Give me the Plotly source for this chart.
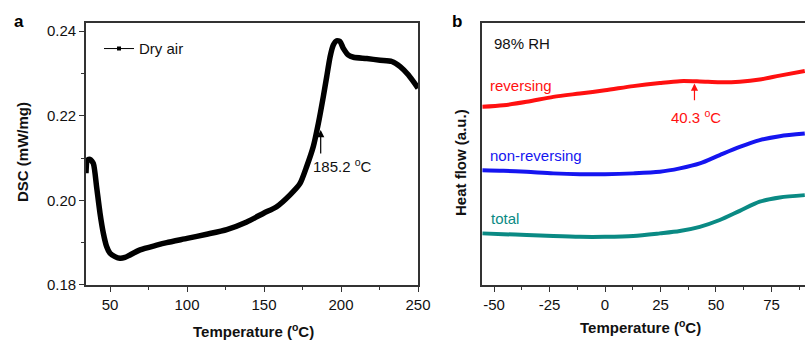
import plotly.graph_objects as go

# Panel a: DSC in dry air
temp_a = [34.4, 35.3, 37.0, 39.2, 41.3, 43.5, 45.7, 47.8, 50.0, 53.2, 56.5, 59.7, 63.0, 69.5,
          80.3, 86.8, 100.0, 112.8, 125.8, 138.8, 150.0, 158.2, 166.9, 173.4, 177.7, 182.0,
          185.3, 188.5, 190.7, 192.9, 195.0, 197.2, 199.4, 201.5, 204.8, 208.1, 216.7, 225.4,
          233.0, 238.4, 243.8, 250.0]
dsc_a = [0.2064, 0.2095, 0.2097, 0.2087, 0.2032, 0.1970, 0.1922, 0.1891, 0.1875, 0.1867, 0.1863,
         0.1865, 0.1871, 0.1883, 0.1894, 0.1900, 0.1910, 0.1920, 0.1931, 0.1949, 0.1970, 0.1985,
         0.2013, 0.2040, 0.2080, 0.2127, 0.2182, 0.2245, 0.2292, 0.2339, 0.2367, 0.2377, 0.2375,
         0.2359, 0.2343, 0.2338, 0.2335, 0.2331, 0.2328, 0.2316, 0.2296, 0.2265]

# Panel b: heat flow at 98% RH (arbitrary units)
temp_b = [-55.3, -45.8, -35.3, -23.3, -11.3, 0.0, 12.7, 24.7, 33.7, 42.7, 51.7, 60.7, 69.7, 78.7, 90.0]
reversing = [6.80, 6.86, 6.99, 7.18, 7.31, 7.43, 7.59, 7.71, 7.78, 7.77, 7.74, 7.76, 7.84, 7.99, 8.17]
non_reversing = [4.38, 4.36, 4.32, 4.26, 4.23, 4.23, 4.26, 4.32, 4.45, 4.64, 4.96, 5.27, 5.53, 5.68, 5.78]
total = [1.97, 1.94, 1.91, 1.87, 1.84, 1.84, 1.87, 1.97, 2.06, 2.22, 2.48, 2.83, 3.18, 3.34, 3.43]

x_ticks_a = [50, 100, 150, 200, 250]
y_ticks_a = [0.18, 0.20, 0.22, 0.24]
y_ticklabels_a = ["0.18", "0.20", "0.22", "0.24"]
x_ticks_b = [-50, -25, 0, 25, 50, 75]
x_ticklabels_b = ["-50", "-25", "0", "25", "50", "75"]

FONT = "Liberation Sans, Arial, sans-serif"
RED = "#ff1010"
BLUE = "#1515f0"
TEAL = "#0a8a84"
AXC = "#333333"

fig = go.Figure()

fig.add_trace(go.Scatter(x=temp_a, y=dsc_a, mode="lines", line=dict(color="black", width=5.5, shape="spline", smoothing=0.6),
                         showlegend=False, xaxis="x", yaxis="y"))
fig.add_trace(go.Scatter(x=[None], y=[None], mode="lines+markers", name="Dry air",
                         line=dict(color="black", width=1), marker=dict(symbol="square", size=4, color="black"),
                         xaxis="x", yaxis="y"))

for vals, col in [(reversing, RED), (non_reversing, BLUE), (total, TEAL)]:
    fig.add_trace(go.Scatter(x=temp_b, y=vals, mode="lines", line=dict(color=col, width=4, shape="spline", smoothing=0.8),
                             showlegend=False, xaxis="x2", yaxis="y2"))

axis_common = dict(showline=True, linecolor=AXC, linewidth=1.5, ticks="outside", ticklen=5, tickwidth=1.2,
                   tickcolor=AXC, showgrid=False, zeroline=False, tickfont=dict(family=FONT, size=15, color="#111"))

fig.update_layout(
    width=805, height=340,
    margin=dict(l=0, r=0, t=0, b=0, autoexpand=False),
    paper_bgcolor="white", plot_bgcolor="white",
    font=dict(family=FONT, size=15, color="#111"),
    xaxis=dict(domain=[0.1068, 0.5193], range=[34.4, 250], tickvals=x_ticks_a, mirror=True,
               minor=dict(dtick=25, tick0=0, ticks="outside", ticklen=3, tickcolor=AXC), anchor="y", **axis_common),
    yaxis=dict(domain=[0.1618, 0.9324], range=[0.18, 0.2419], tickvals=y_ticks_a, ticktext=y_ticklabels_a, mirror=True,
               minor=dict(dtick=0.01, tick0=0.18, ticks="outside", ticklen=3, tickcolor=AXC), anchor="x", **axis_common),
    xaxis2=dict(domain=[0.5991, 1.0], range=[-55.3, 90.1], tickvals=x_ticks_b, ticktext=x_ticklabels_b, mirror=True,
                minor=dict(dtick=12.5, tick0=0, ticks="outside", ticklen=3, tickcolor=AXC), anchor="y2", **axis_common),
    yaxis2=dict(domain=[0.1618, 0.9324], range=[0, 10], showticklabels=False, anchor="x2",
                showline=True, linecolor=AXC, linewidth=1.5, ticks="", showgrid=False, zeroline=False),
    legend=dict(x=0.123, y=0.905, xanchor="left", yanchor="top", bgcolor="rgba(0,0,0,0)",
                font=dict(family=FONT, size=15, color="#111"), itemwidth=30),
)

def A(**kw):
    kw.setdefault("xanchor", "center")
    kw.setdefault("yanchor", "middle")
    kw.setdefault("showarrow", False)
    return dict(**kw)

ann = []
# panel labels
ann.append(A(text="<b>a</b>", x=19/805, y=1-22/340, xref="paper", yref="paper",
             font=dict(size=17, family=FONT, color="black")))
ann.append(A(text="<b>b</b>", x=457/805, y=1-22/340, xref="paper", yref="paper",
             font=dict(size=17, family=FONT, color="black")))
# axis titles
ann.append(A(text="<b>Temperature (<sup>o</sup>C)</b>", x=253/805, y=1-330/340, xref="paper", yref="paper",
             font=dict(size=15, family=FONT, color="#111")))
ann.append(A(text="<b>Temperature (<sup>o</sup>C)</b>", x=640/805, y=1-326/340, xref="paper", yref="paper",
             font=dict(size=15, family=FONT, color="#111")))
ann.append(A(text="<b>DSC (mW/mg)</b>", x=22/805, y=1-152/340, xref="paper", yref="paper", textangle=-90,
             font=dict(size=15, family=FONT, color="#111")))
ann.append(A(text="<b>Heat flow (a.u.)</b>", x=460/805, y=1-163/340, xref="paper", yref="paper", textangle=-90,
             font=dict(size=15, family=FONT, color="#111")))
# panel a arrow + label
ann.append(dict(text="", x=186.8, y=0.2166, ax=186.8, ay=0.2107, xref="x", yref="y", axref="x", ayref="y",
                showarrow=True, arrowhead=2, arrowsize=1.2, arrowwidth=1.2, arrowcolor="black"))
ann.append(A(text="185.2 <sup>o</sup>C", x=200.9, y=0.2082, xref="x", yref="y",
             font=dict(size=15, family=FONT, color="#111")))
# panel b labels
ann.append(A(text="98% RH", x=-51, y=9.21, xref="x2", yref="y2", xanchor="left",
             font=dict(size=15, family=FONT, color="#111")))
ann.append(A(text="reversing", x=-52.6, y=7.62, xref="x2", yref="y2", xanchor="left",
             font=dict(size=15, family=FONT, color=RED)))
ann.append(A(text="non-reversing", x=-52.6, y=4.96, xref="x2", yref="y2", xanchor="left",
             font=dict(size=15, family=FONT, color=BLUE)))
ann.append(A(text="total", x=-52.2, y=2.54, xref="x2", yref="y2", xanchor="left",
             font=dict(size=15, family=FONT, color=TEAL)))
ann.append(dict(text="", x=40.3, y=7.69, ax=40.3, ay=6.99, xref="x2", yref="y2", axref="x2", ayref="y2",
                showarrow=True, arrowhead=2, arrowsize=1.2, arrowwidth=1.2, arrowcolor=RED))
ann.append(A(text="40.3 <sup>o</sup>C", x=40.8, y=6.42, xref="x2", yref="y2",
             font=dict(size=15, family=FONT, color=RED)))
fig.update_layout(annotations=ann)

fig.write_html("out.html", config={"displayModeBar": False},
               post_script="document.body.style.margin='0';document.body.style.overflow='hidden';")
